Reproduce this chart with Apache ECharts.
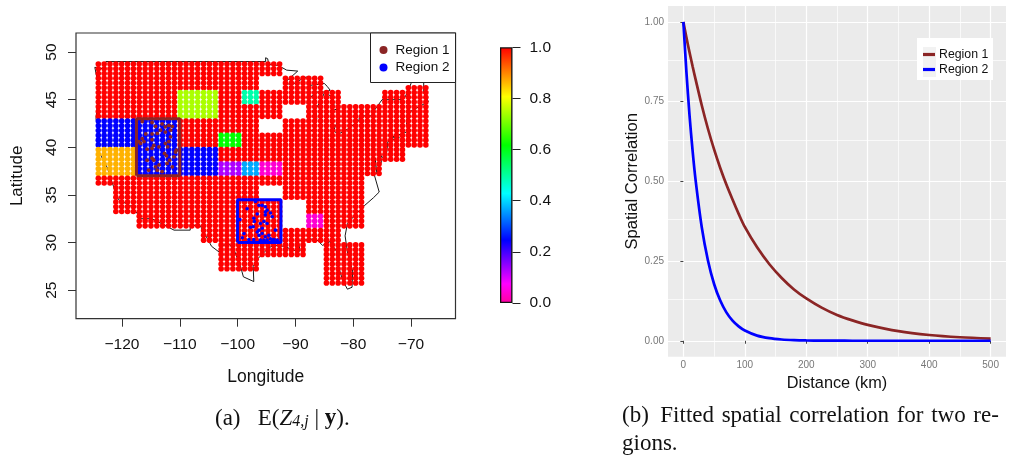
<!DOCTYPE html>
<html>
<head>
<meta charset="utf-8">
<style>html,body{margin:0;padding:0;background:#fff}#c{width:1009px;height:456px}</style>
<script src="https://cdn.jsdelivr.net/npm/echarts@6/dist/echarts.min.js"></script>
</head>
<body>
<div id="c"></div>
<script>
// ---------- Map grid locations ----------
const gridLons = [-124.1,-123.09,-122.08,-121.06,-120.05,-119.04,-118.03,-117.02,-116.0,-114.99,-113.98,-112.97,-111.96,-110.94,-109.93,-108.92,-107.91,-106.9,-105.88,-104.87,-103.86,-102.85,-101.84,-100.82,-99.81,-98.8,-97.79,-96.78,-95.76,-94.75,-93.74,-92.73,-91.72,-90.7,-89.69,-88.68,-87.67,-86.66,-85.64,-84.63,-83.62,-82.61,-81.6,-80.58,-79.57,-78.56,-77.55,-76.54,-75.52,-74.51,-73.5,-72.49,-71.48,-70.46,-69.45,-68.44,-67.43];
const gridLats = [48.75,48.25,47.75,47.25,46.75,46.25,45.75,45.25,44.75,44.25,43.75,43.25,42.75,42.25,41.75,41.25,40.75,40.25,39.75,39.25,38.75,38.25,37.75,37.25,36.75,36.25,35.75,35.25,34.75,34.25,33.75,33.25,32.75,32.25,31.75,31.25,30.75,30.25,29.75,29.25,28.75,28.25,27.75,27.25,26.75,26.25,25.75];
// [first column, last column, south lat, north lat]
const landBands = [[0,2,36.25,48.75],[3,6,33.25,48.75],[7,17,31.75,48.75],[18,20,30.25,48.75],[21,27,27.25,48.75],[28,31,28.75,48.75],[32,35,28.75,47.25],[36,38,30.25,47.25],[39,41,25.75,45.75],[42,45,31.75,44.25],[42,45,25.75,29.75],[46,48,37.25,44.25],[49,52,38.75,45.75],[53,56,40.25,46.25]];
const holeBands = [[28,31,46.25,47.25],[28,31,41.75,42.75],[28,31,34.75,35.75],[32,35,43.25,44.25],[32,35,31.75,34.25]];
// [first column, last column, south lat, north lat, E(Z)]
const valueBlocks = [[0,6,40.25,42.75,0.245],[0,6,37.25,39.75,0.865],[7,13,37.25,42.75,0.245],[14,20,43.25,45.75,0.744],[14,20,37.25,39.75,0.245],[25,27,44.75,45.75,0.49],[21,24,40.25,41.25,0.617],[21,24,37.25,38.25,0.13],[25,27,37.25,38.25,0.367],[28,31,37.25,38.25,0.04],[36,38,31.75,32.75,0.04]];
const defaultValue = 1.0;

// ---------- Region sites ----------
const region1Sites = [[-116.5,42.7],[-114.8,42.6],[-114.2,42.2],[-113.05,42.45],[-112.5,42.15],[-111.9,42.3],[-111.3,42.2],[-111.6,41.8],[-112.5,41.6],[-113.35,41.8],[-113.9,41.45],[-114.8,41.4],[-115.9,41.4],[-116.5,40.9],[-116.8,40.4],[-117.1,40.6],[-116.2,40.6],[-114.8,40.8],[-114.5,40.2],[-113.6,40.05],[-114.8,39.9],[-115.65,39.8],[-112.5,40.4],[-111.6,41.1],[-111.9,40.6],[-112.1,40.05],[-112.65,39.35],[-112.3,39.1],[-110.75,39.5],[-110.6,39.7],[-111,39],[-111.75,38.65],[-114.5,38.65],[-114.8,38.85],[-113.6,38.15],[-114.2,37.95],[-113.9,37.6],[-113.05,37.45],[-115.4,37.6],[-111.3,37.95],[-112.2,38.3],[-115.65,38.65]];
const region2Sites = [[-96.9,34.3],[-98.35,33.55],[-99.6,32.4],[-96.3,33.9],[-95.75,33.9],[-95.2,33.75],[-95.2,33.2],[-94.9,33.4],[-95.2,32.9],[-94.3,33.1],[-94,32.7],[-96.6,33],[-97.2,32.55],[-97.1,32.2],[-97.3,31.65],[-97.8,31.6],[-96.05,32],[-95.45,32.2],[-94.9,32],[-95.75,31.5],[-96.3,31.3],[-96.6,31.1],[-95.75,30.95],[-96.3,30.75],[-98.9,30.95],[-99.2,30.5],[-98.05,30.3],[-97.2,30.3],[-95.2,30.6],[-94.6,30.75],[-94.3,30.4],[-94.9,30.25],[-94,30.25],[-95.45,30.25],[-93.45,31.3],[-93.7,30.3],[-93.15,30.25],[-96.05,30.25]];
const region1Box = [[-117.5,37],[-117.5,43],[-110,43],[-110,37],[-117.5,37]];
const region2Box = [[-100,30],[-100,34.5],[-92.5,34.5],[-92.5,30],[-100,30]];

// ---------- Outline of the lower 48 ----------
const usOutline = [[-124.7,48.4],[-123,48.2],[-122.8,49],[-95.15,49],[-95.15,49.4],[-94.8,49.3],[-94.6,48.7],[-93,48.6],[-91.5,48.1],[-89.6,48],[-92,46.7],[-90.5,46.6],[-88.5,47.3],[-87.9,47.4],[-87.5,46.5],[-85,46.7],[-84.5,46.4],[-84,46],[-84.7,45.8],[-86.5,45.8],[-87.6,45.1],[-88,44.6],[-87.4,44.9],[-87.8,43],[-87.5,41.7],[-86.8,41.8],[-86.3,43],[-86.5,44],[-85.5,45],[-85,45.7],[-83.5,45.3],[-83.3,44.3],[-83.9,43.8],[-82.9,44],[-82.4,43],[-83.1,42.2],[-83.4,41.7],[-82.5,41.4],[-81,41.9],[-79,42.8],[-78.9,43.3],[-76.8,43.3],[-76.2,44],[-75,45],[-71.5,45],[-71,45.3],[-70.3,46.2],[-70,46.7],[-69.2,47.4],[-68.3,47.3],[-67.8,47],[-67.8,45.7],[-67,44.8],[-68.5,44.3],[-70,43.8],[-70.7,43],[-70.8,42.2],[-70,41.8],[-71.2,41.5],[-73.7,41],[-72,41],[-74,40.6],[-74.2,39.5],[-75,38.9],[-75.5,39.5],[-75.1,38.5],[-75.9,37.2],[-76.2,38.9],[-76.3,37],[-75.5,35.3],[-76.5,34.7],[-78,33.9],[-79.2,33.2],[-81,32],[-81.4,30.7],[-81,29],[-80.1,27],[-80.2,25.3],[-81,25.1],[-81.8,26],[-82.7,27.8],[-82.8,29],[-84,30.1],[-85.3,29.7],[-86.5,30.4],[-88,30.3],[-89.5,30.2],[-89.2,29.1],[-90.5,29.2],[-91.8,29.6],[-93.8,29.7],[-94.7,29.4],[-96.5,28.3],[-97.3,27.5],[-97.2,25.9],[-99,26.4],[-99.5,27.5],[-100.6,29.2],[-101.4,29.8],[-102.7,29.7],[-103.2,29],[-104.5,29.6],[-106.5,31.8],[-108.2,31.8],[-108.2,31.3],[-111,31.3],[-114.8,32.5],[-117.1,32.5],[-117.3,33],[-118.4,33.8],[-120.6,34.5],[-121.9,36.6],[-122.5,37.8],[-123.8,39.3],[-124.3,40.3],[-124.1,42],[-124.5,43],[-124,46.2],[-124.7,48.4]];

// ---------- Colour scale ----------
const colourStops = [[0,'#FF009F'],[0.075,'#FF00FF'],[0.245,'#0000FF'],[0.428,'#00FFFF'],[0.617,'#00FF00'],[0.807,'#FFFF00'],[1,'#FF0000']];

// ---------- Tick labels ----------
const lonTicks = [-120,-110,-100,-90,-80,-70];
const latTicks = [25,30,35,40,45,50];
const distTicks = [0,100,200,300,400,500];
const distMinor = [50,150,250,350,450];
const corrTicks = [0,0.25,0.5,0.75,1];
const corrMinor = [0.125,0.375,0.625,0.875];

// ---------- Correlation curves ----------
const distances = [0,5,10,15,20,30,40,50,60,70,80,90,100,120,140,160,180,200,225,250,275,300,350,400,450,500];
const corrRegion1 = [1,0.951,0.905,0.861,0.819,0.738,0.665,0.600,0.542,0.490,0.443,0.398,0.357,0.293,0.240,0.197,0.161,0.133,0.104,0.081,0.064,0.050,0.030,0.018,0.011,0.007];
const corrRegion2 = [1,0.842,0.708,0.596,0.502,0.355,0.252,0.178,0.126,0.089,0.063,0.045,0.032,0.016,0.008,0.004,0.002,0.001,0.0004,0.0002,0.0001,0,0,0,0,0];

const BROWN = '#8B2525', BLUE = '#0000FF', SANS = '"Liberation Sans",Arial,sans-serif', SERIF = '"Liberation Serif",serif';

function hexRgb(h){return [1,3,5].map(i=>parseInt(h.substr(i,2),16));}
function colourAt(v){
  for(let k=1;k<colourStops.length;k++){
    const a=colourStops[k-1],b=colourStops[k];
    if(v<=b[0]){
      const t=(v-a[0])/(b[0]-a[0]),ca=hexRgb(a[1]),cb=hexRgb(b[1]);
      return 'rgb('+ca.map((c,i)=>Math.round(c+(cb[i]-c)*t)).join(',')+')';
    }
  }
  return '#FF0000';
}
function inBand(b,i,lat){return i>=b[0]&&i<=b[1]&&lat>=b[2]&&lat<=b[3];}
const mapData=[];
gridLats.forEach(lat=>gridLons.forEach((lon,i)=>{
  if(!landBands.some(b=>inBand(b,i,lat))||holeBands.some(b=>inBand(b,i,lat)))return;
  const blk=valueBlocks.find(b=>inBand(b,i,lat));
  mapData.push([lon,lat,blk?blk[4]:defaultValue]);
}));

const option={
  animation:false,
  backgroundColor:'#fff',
  textStyle:{fontFamily:SANS},
  grid:[
    {left:76,top:33,width:379.5,height:285.7,show:true,borderColor:'#333',borderWidth:1.2,backgroundColor:'transparent'},
    {left:668,top:6,width:338,height:350.7,show:true,borderWidth:0,backgroundColor:'#EBEBEB'},
    {left:500,top:47.3,width:12.5,height:255.7,show:false}
  ],
  xAxis:[
    {gridIndex:0,type:'value',min:-127.96,max:-62.3,name:'Longitude',nameLocation:'middle',nameGap:49,nameTextStyle:{fontSize:17.5,color:'#111'},
      splitLine:{show:false},axisLine:{show:false},
      axisTick:{show:true,length:8,customValues:lonTicks,lineStyle:{color:'#333',width:1}},
      axisLabel:{customValues:lonTicks,fontSize:15.5,color:'#111',margin:18,formatter:v=>String(v).replace('-','\u2212')}},
    {gridIndex:1,type:'value',min:-25,max:525,name:'Distance (km)',nameLocation:'middle',nameGap:13,nameTextStyle:{fontSize:16.3,color:'#111'},
      splitLine:{show:true,lineStyle:{color:'#fff',width:1.2}},axisLine:{show:false},
      axisTick:{show:true,length:3,customValues:distTicks,lineStyle:{color:'#444',width:1}},
      axisLabel:{customValues:distTicks,fontSize:10,color:'#777',margin:4}},
    {gridIndex:2,type:'category',data:['scale'],show:false}
  ],
  yAxis:[
    {gridIndex:0,type:'value',min:22,max:52,name:'Latitude',nameLocation:'middle',nameGap:50,nameTextStyle:{fontSize:17,color:'#111'},
      splitLine:{show:false},axisLine:{show:false},
      axisTick:{show:true,length:8,customValues:latTicks,lineStyle:{color:'#333',width:1}},
      axisLabel:{customValues:latTicks,rotate:90,fontSize:15.5,color:'#111',margin:16}},
    {gridIndex:1,type:'value',min:-0.05,max:1.05,name:'Spatial Correlation',nameLocation:'middle',nameGap:26,nameTextStyle:{fontSize:16.6,color:'#111'},
      splitLine:{show:true,lineStyle:{color:'#fff',width:1.2}},axisLine:{show:false},
      axisTick:{show:true,length:3,customValues:corrTicks,lineStyle:{color:'#444',width:1}},
      axisLabel:{customValues:corrTicks,fontSize:10,color:'#777',margin:4,formatter:v=>v.toFixed(2)}},
    {gridIndex:2,type:'value',min:0,max:1,position:'right',interval:0.2,splitLine:{show:false},axisLine:{show:false},
      axisTick:{show:true,length:8,lineStyle:{color:'#222',width:1}},
      axisLabel:{fontSize:15.5,color:'#111',margin:17,formatter:v=>v.toFixed(1)}}
  ],
  legend:[
    {left:370.5,top:33,orient:'vertical',selectedMode:false,padding:[10,6,8,9],itemGap:3.5,itemWidth:8,itemHeight:14,backgroundColor:'#fff',borderColor:'#222',borderWidth:1,
      textStyle:{fontSize:13.5,color:'#111',fontFamily:SANS,padding:[0,0,0,3]},
      data:[{name:'Region 1',icon:'circle',itemStyle:{color:BROWN,borderWidth:0,opacity:1}},{name:'Region 2',icon:'circle',itemStyle:{color:BLUE,borderWidth:0,opacity:1}}]},
    {left:923,top:47,orient:'vertical',selectedMode:false,padding:0,itemGap:0,itemWidth:12,itemHeight:3.2,z:5,
      textStyle:{fontSize:12.3,color:'#111',fontFamily:SANS,lineHeight:15,padding:[0,0,0,-1]},
      data:[{name:'Region 1',icon:'rect',itemStyle:{color:BROWN,borderWidth:0,opacity:1}},{name:'Region 2',icon:'rect',itemStyle:{color:BLUE,borderWidth:0,opacity:1}}]}
  ],
  graphic:[
    {type:'rect',z:3,shape:{x:917,y:38,width:76,height:42},style:{fill:'#fff'}},
    {type:'rect',z:3,shape:{x:923,y:47,width:13,height:15},style:{fill:'#F2F2F2'}},
    {type:'rect',z:3,shape:{x:923,y:62,width:13,height:15},style:{fill:'#F2F2F2'}}
  ],
  title:[
    {left:215,top:407,padding:0,textStyle:{fontFamily:SERIF,fontSize:23,fontWeight:'normal',color:'#111',
      rich:{i:{fontFamily:SERIF,fontSize:23,fontStyle:'italic',color:'#111'},sub:{fontFamily:SERIF,fontSize:16,fontStyle:'italic',color:'#111',padding:[7,0,0,0]},b:{fontFamily:SERIF,fontSize:23,fontWeight:'bold',color:'#111'},n:{fontFamily:SERIF,fontSize:23,color:'#111'}}},
      text:'{n|(a)   E(}{i|Z}{sub|4,j}{n| | }{b|y}{n|).}'},
    {left:622,top:402,padding:0,textStyle:{fontFamily:SERIF,fontSize:23,fontWeight:'normal',color:'#111',lineHeight:28},
      text:'(b)  Fitted \u200Aspatial \u200Acorrelation \u200Afor \u200Atwo \u200Are-\ngions.'}
  ],
  series:[
    {name:'US outline',type:'line',xAxisIndex:0,yAxisIndex:0,data:usOutline,showSymbol:false,symbol:'none',z:1,silent:true,lineStyle:{color:'#000',width:0.9}},
    {name:'E(Z)',type:'scatter',xAxisIndex:0,yAxisIndex:0,data:mapData,symbolSize:5.6,z:2,silent:true,itemStyle:{opacity:1,color:p=>colourAt(p.value[2])}},
    {name:'Region 1',type:'scatter',xAxisIndex:0,yAxisIndex:0,data:region1Sites,symbolSize:3.8,z:3,silent:true,itemStyle:{opacity:1,color:BROWN}},
    {name:'Region 2',type:'scatter',xAxisIndex:0,yAxisIndex:0,data:region2Sites,symbolSize:3.6,z:3,silent:true,itemStyle:{opacity:1,color:BLUE}},
    {name:'Region 1 box',type:'line',xAxisIndex:0,yAxisIndex:0,data:region1Box,symbol:'none',z:3,silent:true,lineStyle:{color:BROWN,width:3}},
    {name:'Region 2 box',type:'line',xAxisIndex:0,yAxisIndex:0,data:region2Box,symbol:'none',z:3,silent:true,lineStyle:{color:BLUE,width:3}},
    {name:'minor grid',type:'line',xAxisIndex:1,yAxisIndex:1,data:[],symbol:'none',z:1,silent:true,
      markLine:{silent:true,z:1,symbol:'none',animation:false,label:{show:false},lineStyle:{color:'#fff',width:0.7,type:'solid'},
        data:distMinor.map(v=>({xAxis:v})).concat(corrMinor.map(v=>({yAxis:v})))}},
    {name:'Region 1',type:'line',xAxisIndex:1,yAxisIndex:1,data:distances.map((d,i)=>[d,corrRegion1[i]]),symbol:'none',smooth:0.3,z:2,silent:true,lineStyle:{color:BROWN,width:2.7}},
    {name:'Region 2',type:'line',xAxisIndex:1,yAxisIndex:1,data:distances.map((d,i)=>[d,corrRegion2[i]]),symbol:'none',smooth:0.3,z:2,silent:true,lineStyle:{color:BLUE,width:2.7}},
    {name:'scale',type:'bar',xAxisIndex:2,yAxisIndex:2,data:[1],barWidth:'100%',z:2,silent:true,
      itemStyle:{borderColor:'#111',borderWidth:1.3,color:new echarts.graphic.LinearGradient(0,1,0,0,colourStops.map(s=>({offset:s[0],color:s[1]})))}}
  ]
};
echarts.init(document.getElementById('c'),null,{renderer:'canvas'}).setOption(option);
</script>
</body>
</html>
